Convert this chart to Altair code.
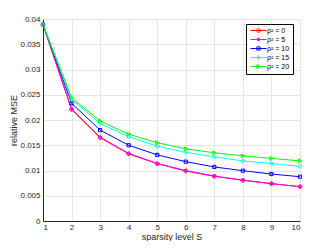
import altair as alt
import pandas as pd

S = [1, 2, 3, 4, 5, 6, 7, 8, 9, 10]
series = ["ρ² = 0", "ρ² = 5", "ρ² = 10", "ρ² = 15", "ρ² = 20"]
colors = ["#ff0000", "#ff00ff", "#0000ff", "#00ffff", "#00ff00"]
rho0 = [0.0389, 0.0221, 0.0165, 0.0133, 0.01135, 0.0099, 0.00885, 0.00806, 0.00739, 0.0068]
rho5 = [0.0389, 0.0222, 0.0166, 0.0134, 0.0114, 0.0100, 0.0089, 0.0081, 0.0074, 0.0068]
rho10 = [0.0389, 0.0233, 0.0180, 0.0150, 0.0131, 0.01175, 0.0107, 0.00996, 0.0093, 0.00877]
rho15 = [0.0389, 0.0241, 0.0193, 0.0167, 0.0148, 0.0136, 0.0127, 0.0119, 0.0114, 0.0108]
rho20 = [0.0389, 0.0244, 0.0198, 0.0172, 0.0155, 0.0143, 0.0135, 0.0129, 0.0124, 0.0119]
y_ticks = [0, 0.005, 0.01, 0.015, 0.02, 0.025, 0.03, 0.035, 0.04]

# marker shapes (plot)
circle = "M-0.9,0A0.9,0.9 0 1,0 0.9,0A0.9,0.9 0 1,0 -0.9,0Z"
star = "M-1,0L1,0M0,-1L0,1M-0.7,-0.7L0.7,0.7M-0.7,0.7L0.7,-0.7"
square = "M-0.8,-0.8L0.8,-0.8L0.8,0.8L-0.8,0.8Z"
diamond = "M0,-1L1,0L0,1L-1,0Z"
tri = "M-0.8,-1L1,0L-0.8,1Z"
plot_shapes = [circle, star, square, diamond, tri]

# legend shapes (line + marker), for size 36 (unit = 3px)
def leg(m):
    return "M-2.7,0L2.7,0" + m

l_circle = "M-0.6,0A0.6,0.6 0 1,0 0.6,0A0.6,0.6 0 1,0 -0.6,0Z"
l_star = "M-0.65,0L0.65,0M0,-0.65L0,0.65M-0.46,-0.46L0.46,0.46M-0.46,0.46L0.46,-0.46"
l_square = "M-0.55,-0.55L0.55,-0.55L0.55,0.55L-0.55,0.55Z"
l_diamond = "M0,-0.65L0.65,0L0,0.65L-0.65,0Z"
l_tri = "M-0.55,-0.65L0.65,0L-0.55,0.65Z"
legend_shapes = [leg(s) for s in [l_circle, l_star, l_square, l_diamond, l_tri]]

rows = []
for name, vals in zip(series, [rho0, rho5, rho10, rho15, rho20]):
    for s, v in zip(S, vals):
        rows.append({"S": s, "mse": v, "series": name})
df = pd.DataFrame(rows)

x = alt.X("S:Q", scale=alt.Scale(domain=[1, 10], nice=False),
          axis=alt.Axis(values=S, title="sparsity level S", format="d",
                        titleY=18, titleBaseline="alphabetic"))
y = alt.Y("mse:Q", scale=alt.Scale(domain=[0, 0.04], nice=False),
          axis=alt.Axis(values=y_ticks, title="relative MSE", format="~g",
                        titleX=-30, titleBaseline="middle"))

base = alt.Chart(df)

lines = base.mark_line(strokeWidth=1).encode(
    x=x, y=y,
    color=alt.Color("series:N", scale=alt.Scale(domain=series, range=colors), legend=None),
    detail="series:N",
)

points = base.mark_point(filled=False, size=16, strokeWidth=1, opacity=1).encode(
    x=x, y=y,
    color=alt.Color("series:N", scale=alt.Scale(domain=series, range=colors), legend=None),
    shape=alt.Shape("series:N", scale=alt.Scale(domain=series, range=plot_shapes), legend=None),
)

legend_layer = base.transform_filter("false").mark_point(filled=False, size=36, strokeWidth=1, opacity=1).encode(
    x=x, y=y,
    color=alt.Color("series:N", scale=alt.Scale(domain=series, range=colors),
                    legend=alt.Legend(title=None)),
    shape=alt.Shape("series:N", scale=alt.Scale(domain=series, range=legend_shapes),
                    legend=alt.Legend(title=None)),
)

chart = alt.layer(lines, points, legend_layer).resolve_scale(
    color="independent", shape="independent"
).properties(
    width=257, height=202,
    autosize=alt.AutoSizeParams(type="none"),
    padding={"left": 35, "top": 11, "right": 24, "bottom": 20},
).configure_view(stroke=None).configure_axis(
    grid=True, gridColor="#e5e5e5", gridWidth=1,
    domainColor="#262626", domainWidth=1,
    ticks=False,
    labelFont="Liberation Sans", labelFontSize=8, labelColor="#262626",
    titleFont="Liberation Sans", titleFontSize=9, titleFontWeight="normal", titleColor="#262626",
).configure_axisX(labelPadding=2).configure_axisY(labelPadding=3).configure_legend(
    orient="none", legendX=203, legendY=5,
    strokeColor="#000000", fillColor="#ffffff", padding=3,
    labelFont="Liberation Sans", labelFontSize=7, labelColor="#000000",
    symbolSize=36, symbolStrokeWidth=1, rowPadding=0, symbolOffset=6, labelOffset=5,
)

chart.save("out.html", embed_options={"renderer": "svg", "actions": False})
